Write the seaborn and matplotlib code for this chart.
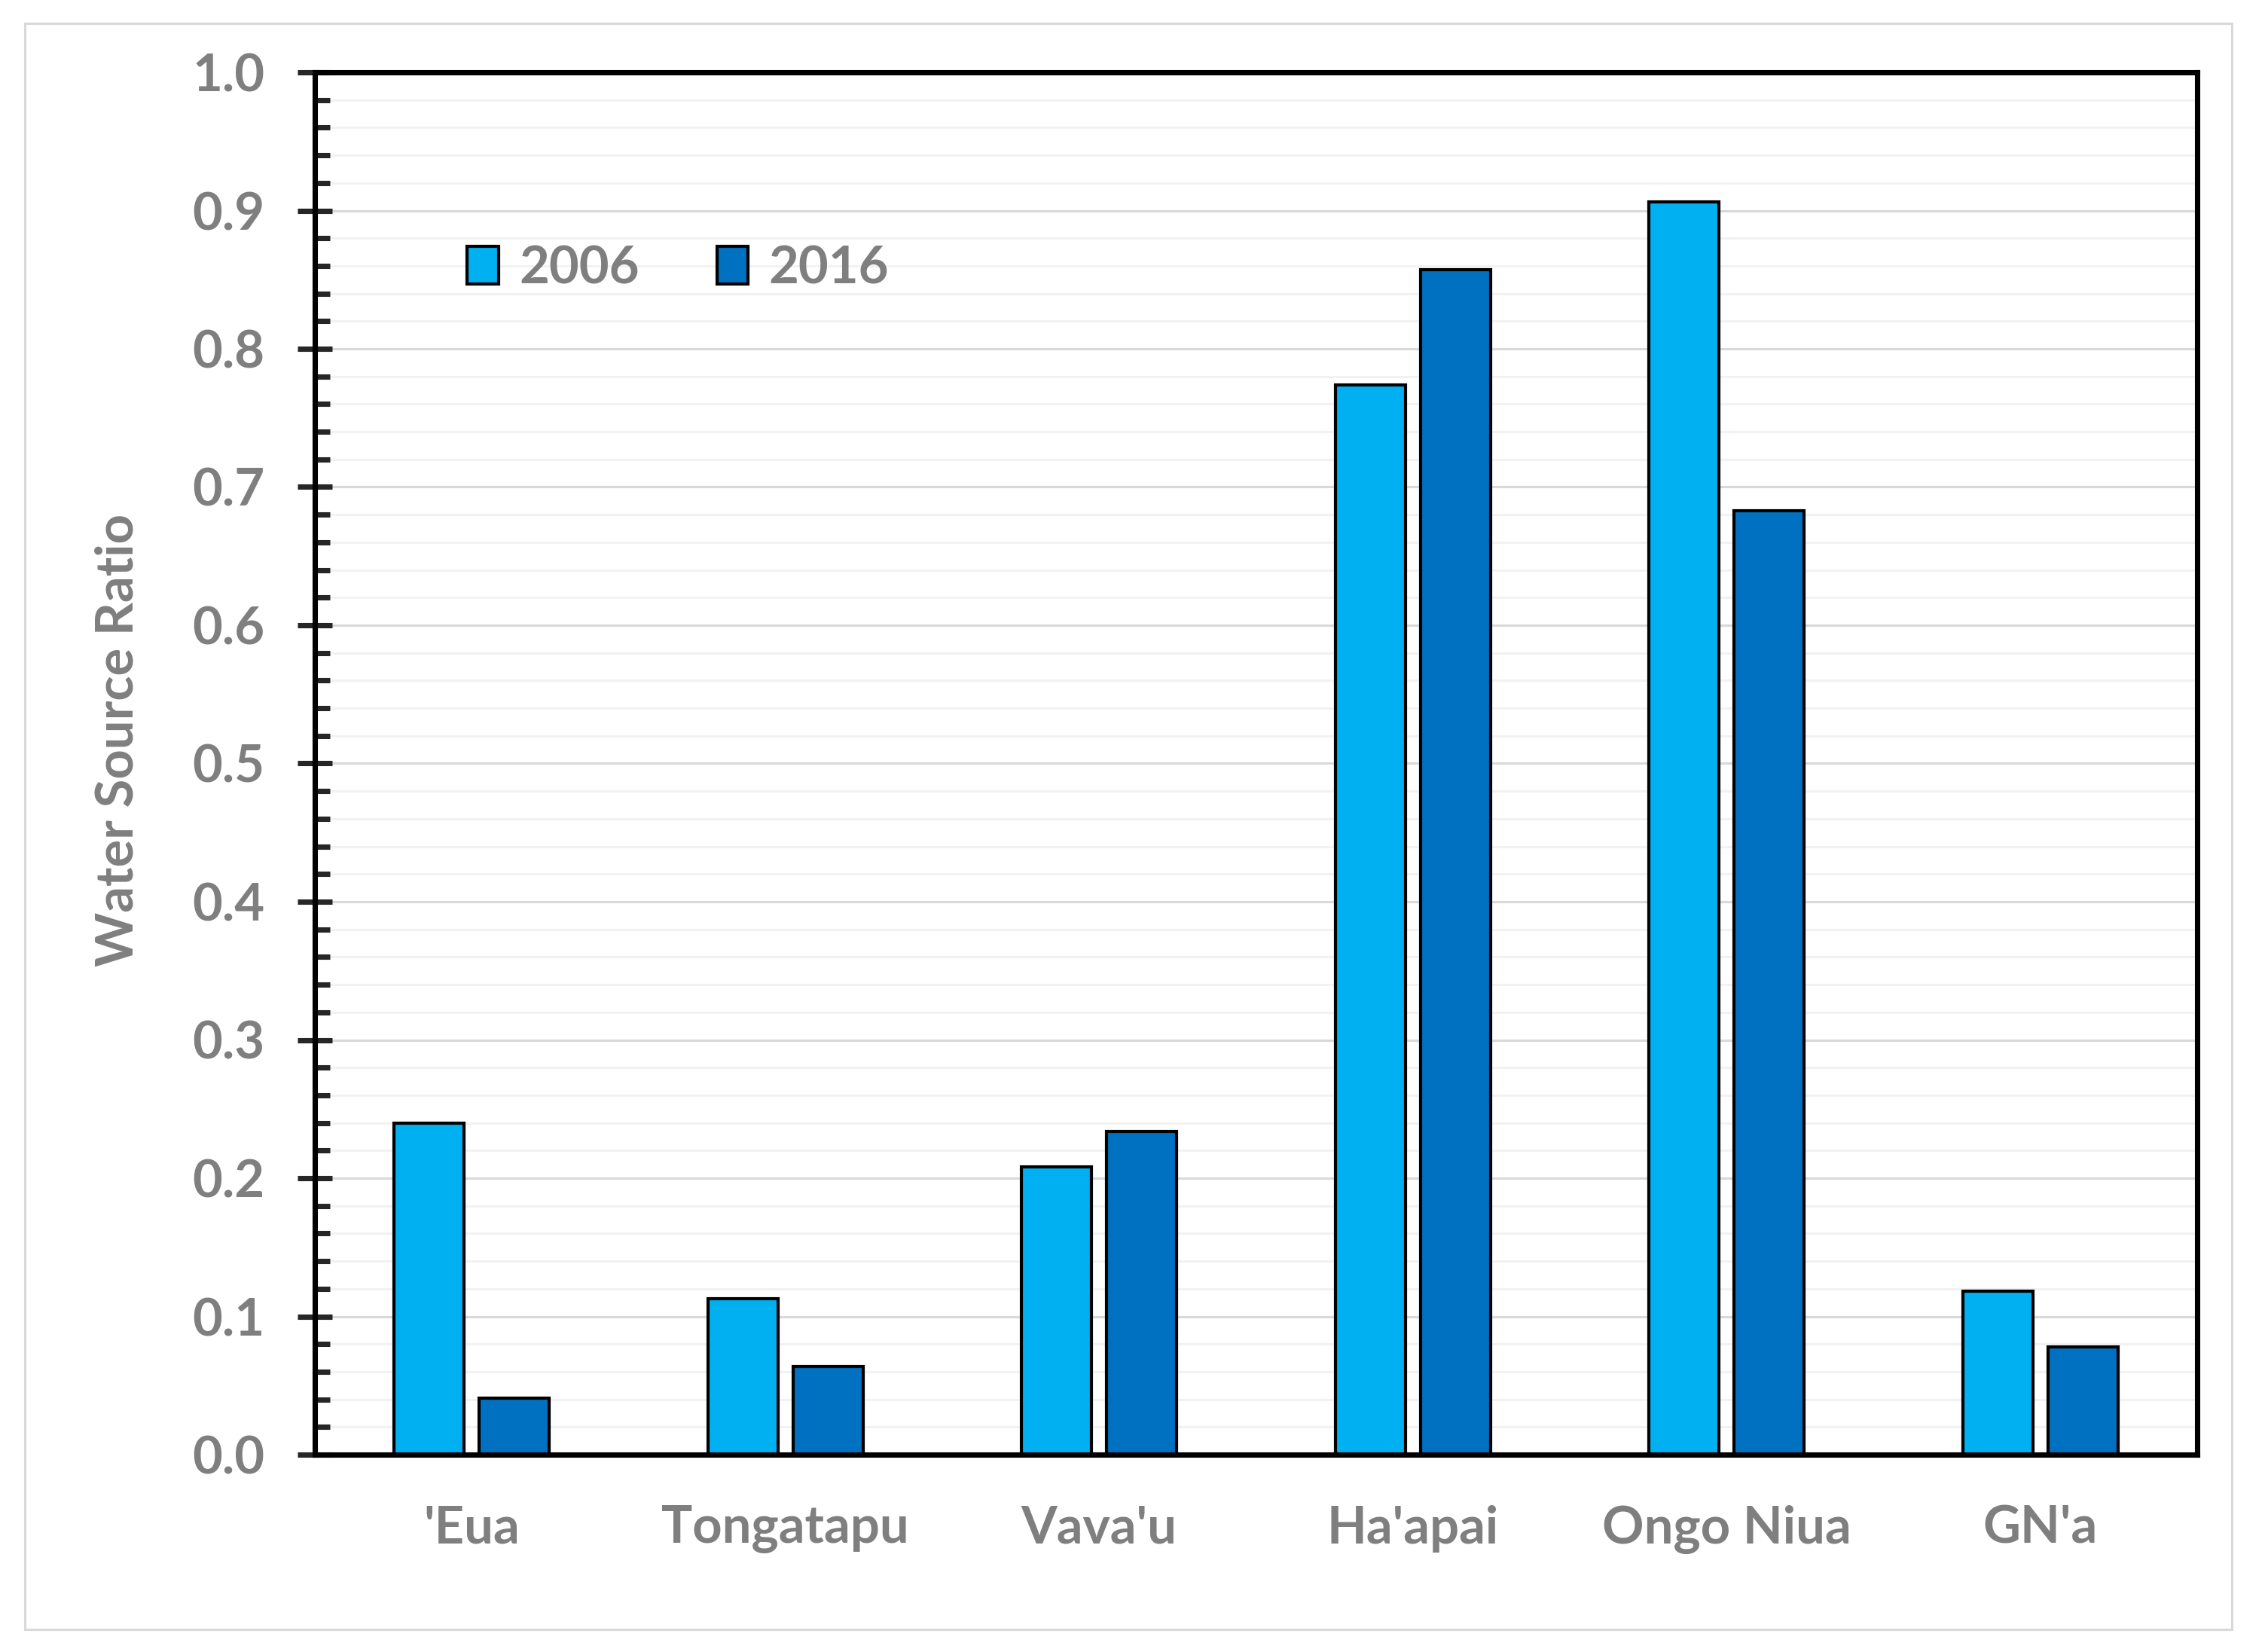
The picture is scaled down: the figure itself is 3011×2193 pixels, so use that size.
import pandas as pd
import matplotlib
matplotlib.use("Agg")
import matplotlib.pyplot as plt
from matplotlib.patches import Patch, Rectangle
from matplotlib.ticker import MultipleLocator, FormatStrFormatter
import seaborn as sns

# data
regions = ["'Eua", "Tongatapu", "Vava'u", "Ha'apai", "Ongo Niua", "GN'a"]
years = ["2006", "2016"]
ratio_2006 = [0.240, 0.113, 0.208, 0.774, 0.906, 0.118]
ratio_2016 = [0.041, 0.064, 0.234, 0.857, 0.683, 0.078]
colors = ["#00B0F0", "#0070C0"]

df = pd.DataFrame({
    "region": regions * 2,
    "year": [years[0]] * len(regions) + [years[1]] * len(regions),
    "ratio": ratio_2006 + ratio_2016,
})

sns.set_style("white")
plt.rcParams["font.family"] = ["Lato", "DejaVu Sans"]
plt.rcParams["font.weight"] = "bold"

W, H, DPI = 3011, 2193, 300
fig = plt.figure(figsize=(W / DPI, H / DPI), dpi=DPI)
ax = fig.add_axes([418 / W, 1 - 1931 / H, 2499 / W, 1835 / H])

sns.barplot(data=df, x="region", y="ratio", hue="year", palette=colors,
            width=0.543, gap=0.18, edgecolor="black", linewidth=1.0,
            saturation=1, legend=False, ax=ax)

grey = "#7F7F7F"
fs = 16.5
ax.set_ylim(0, 1.0)
ax.set_xlim(-0.5, len(regions) - 0.5)
ax.yaxis.set_major_locator(MultipleLocator(0.1))
ax.yaxis.set_minor_locator(MultipleLocator(0.02))
ax.yaxis.set_major_formatter(FormatStrFormatter("%.1f"))
ax.set_axisbelow(True)
ax.yaxis.grid(True, which="major", color="#D9D9D9", lw=0.75)
ax.yaxis.grid(True, which="minor", color="#F2F2F2", lw=0.75)
ax.xaxis.grid(False)

for s in ax.spines.values():
    s.set_visible(True)
    s.set_color("black")
    s.set_linewidth(1.7)

ax.tick_params(axis="y", which="major", direction="inout", length=11, width=1.7,
               pad=10.5, labelsize=fs, labelcolor=grey, left=True)
ax.tick_params(axis="y", which="minor", direction="in", length=4.8, width=1.7, left=True)
ax.tick_params(axis="x", length=0, pad=16, labelsize=fs, labelcolor=grey)
for lab in ax.get_xticklabels() + ax.get_yticklabels():
    lab.set_fontweight("bold")

ax.set_xlabel("")
ax.set_ylabel("Water Source Ratio", fontsize=fs, color=grey, fontweight="bold", labelpad=16)
ax.yaxis.label.set_y(0.517)

handles = [Patch(facecolor=c, edgecolor="black", lw=1.0) for c in colors]
ax.legend(handles, years, ncol=2, frameon=False, loc="center left",
          bbox_to_anchor=(0.081, 0.858), borderpad=0, borderaxespad=0,
          handlelength=0.6, handleheight=0.75, handletextpad=0.4,
          columnspacing=1.5, prop={"size": fs, "weight": "bold"}, labelcolor=grey)

# light grey outer chart border
fig.patches.append(Rectangle((33 / W, 1 - 2163 / H), (2963 - 33) / W, (2163 - 31) / H,
                             transform=fig.transFigure, fill=False,
                             edgecolor="#D9D9D9", lw=0.75))

fig.savefig("out.png", dpi=DPI, facecolor="white")
